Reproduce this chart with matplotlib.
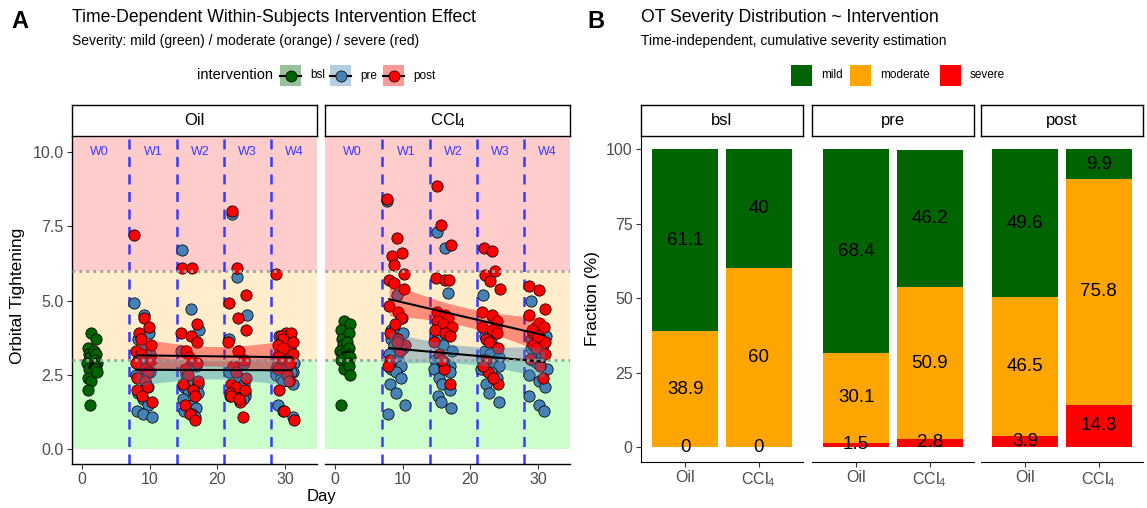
import matplotlib

matplotlib.use("Agg")
import matplotlib.pyplot as plt
import numpy as np
from matplotlib.patches import Rectangle
from matplotlib.lines import Line2D

plt.rcParams["font.family"] = ["Liberation Sans", "DejaVu Sans"]
plt.rcParams["mathtext.fontset"] = "custom"
plt.rcParams["mathtext.rm"] = "Liberation Sans"
plt.rcParams["mathtext.it"] = "Liberation Sans"

W, H = 1147, 508

# ---- panel A data: orbital tightening per day ----
week_labels = ["W0", "W1", "W2", "W3", "W4"]
week_label_day = [2.5, 10.5, 17.5, 24.5, 31.4]
week_breaks = [7, 14, 21, 28]
week_start = {1: 8, 2: 15, 3: 22, 4: 29}

oil_bsl_day = [1, 1, 1, 1, 1, 1, 1, 1, 1, 1, 2, 2, 2, 2, 2, 2, 2, 2]
oil_bsl_ot = [3.9, 3.4, 3.2, 3.1, 2.9, 2.7, 2.4, 2.3, 2.0, 1.5,
              3.7, 3.3, 3.2, 3.0, 2.9, 2.8, 2.7, 2.6]
ccl4_bsl_day = [1, 1, 1, 1, 1, 1, 1, 1, 1, 2, 2, 2, 2, 2, 2, 2, 2, 2]
ccl4_bsl_ot = [4.3, 4.0, 3.7, 3.5, 3.3, 3.2, 3.0, 2.7, 1.5,
               4.2, 3.9, 3.6, 3.4, 3.2, 3.1, 2.9, 2.8, 2.5]

oil_pre = {
    1: [4.9, 4.5, 3.9, 3.7, 3.5, 3.2, 3.0, 2.8, 2.6, 2.5, 2.3, 2.1, 1.9, 1.7, 1.5, 1.3, 1.2, 1.1],
    2: [6.7, 4.7, 4.0, 3.3, 3.0, 2.8, 2.5, 2.3, 2.2, 2.1, 2.0, 1.9, 1.7, 1.5, 1.4, 1.3, 1.2, 1.1],
    3: [7.9, 5.8, 4.5, 3.7, 3.3, 2.9, 2.6, 2.4, 2.2, 2.1, 2.0, 1.9, 1.9, 1.8, 1.8, 1.8, 1.7, 1.7],
    4: [3.8, 3.6, 3.4, 3.2, 3.0, 2.9, 2.8, 2.7, 2.6, 2.5, 2.7, 2.6, 2.4, 2.3, 2.2, 1.5, 1.3, 1.1],
}
oil_post = {
    1: [7.2, 4.4, 4.1, 3.9, 3.7, 3.5, 3.3, 3.2, 3.0, 2.9, 2.7, 2.6, 2.4, 2.3, 2.1, 2.0, 1.8, 1.6],
    2: [6.1, 6.1, 4.2, 3.9, 3.8, 3.6, 3.3, 3.1, 2.9, 2.7, 2.5, 2.3, 2.2, 2.0, 1.8, 1.5, 1.2, 1.0],
    3: [8.0, 6.1, 5.2, 4.9, 4.4, 4.0, 3.6, 3.3, 3.0, 2.8, 2.6, 2.4, 2.2, 2.1, 2.0, 1.9, 1.6, 1.1,
        1.8, 1.7],
    4: [5.9, 3.9, 3.9, 3.8, 3.7, 3.6, 3.5, 3.4, 3.2, 3.1, 3.0, 2.9, 2.7, 2.5, 2.3, 2.0, 1.3, 1.0],
}
ccl4_pre = {
    1: [8.35, 5.2, 4.4, 4.0, 3.9, 3.9, 3.7, 3.5, 3.4, 3.2, 3.0, 2.8, 2.7, 2.6, 2.4, 2.2, 1.9, 1.5,
        1.2],
    2: [7.3, 6.75, 5.25, 3.7, 3.5, 3.3, 3.0, 2.9, 2.8, 2.7, 2.8, 2.6, 2.4, 2.2, 2.0, 1.8, 1.6, 1.4],
    3: [5.2, 4.4, 4.1, 3.8, 3.6, 3.4, 3.3, 3.2, 3.1, 3.0, 2.9, 2.8, 2.7, 2.6, 2.4, 2.2, 1.9, 1.6],
    4: [5.0, 4.1, 3.8, 3.7, 3.6, 3.5, 3.4, 3.3, 3.2, 3.0, 2.9, 2.7, 2.5, 2.3, 2.1, 1.8, 1.5, 1.3],
}
ccl4_post = {
    1: [8.4, 7.1, 6.6, 6.5, 6.2, 5.9, 5.7, 5.6, 5.4, 4.8, 4.6, 4.4, 3.9, 3.7, 3.3, 3.0, 4.2, 3.5,
        2.8, 3.6],
    2: [8.85, 7.55, 6.85, 5.75, 5.7, 5.7, 4.6, 4.5, 4.4, 4.3, 4.2, 4.1, 4.0, 3.9, 3.8, 3.6, 2.7,
        2.2, 3.2, 3.0],
    3: [6.75, 6.65, 6.0, 5.85, 5.65, 5.4, 4.6, 4.5, 4.3, 4.1, 4.0, 3.9, 3.7, 3.6, 3.4, 3.0, 2.6,
        2.2, 2.8, 2.4],
    4: [5.5, 5.35, 4.7, 4.5, 4.25, 4.1, 3.9, 3.8, 3.6, 3.5, 3.4, 3.2, 3.05, 2.8, 2.4, 4.0, 3.8],
}

# ---- panel B data: severity fractions (%) ----
phases = ["bsl", "pre", "post"]
treatments = ["Oil", "CCl$_4$"]
mild_pct = {"bsl": [61.1, 40], "pre": [68.4, 46.2], "post": [49.6, 9.9]}
moderate_pct = {"bsl": [38.9, 60], "pre": [30.1, 50.9], "post": [46.5, 75.8]}
severe_pct = {"bsl": [0, 0], "pre": [1.5, 2.8], "post": [3.9, 14.3]}

COL = {"bsl": "#006400", "pre": "#4682B4", "post": "#FF0000"}
SEV_COL = {"mild": "#006400", "moderate": "#FFA500", "severe": "#FF0000"}
JITTER = [-0.3, 0.15, -0.05, 0.3, -0.2, 0.05, 0.25, -0.35, 0.1, -0.1, 0.35, -0.25, 0.2, 0.0]
TICK_GREY = "#4D4D4D"
TICK_SIZE = 11.5


def px_axes(fig, x0, y0, x1, y1):
    return fig.add_axes([x0 / W, 1 - y1 / H, (x1 - x0) / W, (y1 - y0) / H])


def add_strip(fig, x0, x1, label):
    ax = px_axes(fig, x0, 105, x1, 136)
    ax.set_xticks([])
    ax.set_yticks([])
    for s in ax.spines.values():
        s.set_color("black")
        s.set_linewidth(1.0)
    ax.text(0.5, 0.5, label, ha="center", va="center", fontsize=12,
            transform=ax.transAxes)


def week_points(weeks, shift):
    days, vals = [], []
    for wk, values in weeks.items():
        for i, v in enumerate(values):
            days.append(week_start[wk] + i % 3)
            vals.append(v)
    days = np.array(days, dtype=float)
    jit = np.array([JITTER[(k + shift) % len(JITTER)] for k in range(len(days))])
    return days, days + jit, np.array(vals)


def t_quantile(df):
    z = 1.959964
    return z + (z ** 3 + z) / (4 * df) + (5 * z ** 5 + 16 * z ** 3 + 3 * z) / (96 * df ** 2)


def lm_band(ax, days, vals, color):
    n = len(days)
    slope, intercept = np.polyfit(days, vals, 1)
    resid = vals - (intercept + slope * days)
    s = np.sqrt(np.sum(resid ** 2) / (n - 2))
    xbar = days.mean()
    sxx = np.sum((days - xbar) ** 2)
    xs = np.linspace(days.min(), days.max(), 80)
    fit = intercept + slope * xs
    se = s * np.sqrt(1 / n + (xs - xbar) ** 2 / sxx)
    t = t_quantile(n - 2)
    ax.fill_between(xs, fit - t * se, fit + t * se, color=color, alpha=0.4, lw=0, zorder=4)
    ax.plot(xs, fit, color="black", lw=1.5, zorder=5)


def draw_time_panel(ax, bsl_day, bsl_ot, pre, post, first):
    ax.set_xlim(-1.5, 34.75)
    ax.set_ylim(-0.49, 10.49)
    ax.axhspan(0, 3, color="#CCFFCC", lw=0, zorder=0)
    ax.axhspan(3, 6, color="#FFEDCC", lw=0, zorder=0)
    ax.axhspan(6, 10.49, color="#FFCCCC", lw=0, zorder=0)
    for d in week_breaks:
        ax.axvline(d, color="#3A3AFF", lw=1.8, ls=(0, (4, 3)), zorder=1)

    bday = np.array(bsl_day, dtype=float)
    bx = bday + np.array([JITTER[(k + 3) % len(JITTER)] * 0.8 for k in range(len(bday))])
    ax.scatter(bx, bsl_ot, s=66, color=COL["bsl"], edgecolors="black", linewidths=0.55, zorder=3)
    pre_day, pre_x, pre_v = week_points(pre, 0)
    post_day, post_x, post_v = week_points(post, 7)
    ax.scatter(pre_x, pre_v, s=66, color=COL["pre"], edgecolors="black", linewidths=0.55,
               zorder=3)
    ax.scatter(post_x, post_v, s=66, color=COL["post"], edgecolors="black", linewidths=0.55,
               zorder=3)

    lm_band(ax, bday, np.array(bsl_ot), COL["bsl"])
    lm_band(ax, pre_day, pre_v, COL["pre"])
    lm_band(ax, post_day, post_v, COL["post"])

    for yv in (3, 6):
        ax.axhline(yv, color="#A0A0A0", lw=2, ls=(0, (1, 1.5)), zorder=6)
    for lab, xd in zip(week_labels, week_label_day):
        ax.text(xd, 10, lab, color="#3A3AFF", fontsize=9, ha="center", va="center", zorder=7)

    ax.spines["top"].set_visible(False)
    ax.spines["right"].set_visible(False)
    ax.spines["bottom"].set_linewidth(1.0)
    ax.set_xticks([0, 10, 20, 30])
    ax.tick_params(axis="both", labelsize=TICK_SIZE, labelcolor=TICK_GREY, length=3.5,
                   width=0.8, color="#333333", pad=2.5)
    if first:
        ax.set_yticks([0, 2.5, 5, 7.5, 10])
        ax.set_yticklabels(["0.0", "2.5", "5.0", "7.5", "10.0"])
        ax.spines["left"].set_linewidth(1.0)
    else:
        ax.set_yticks([])
        ax.spines["left"].set_visible(False)


def draw_bar_panel(ax, phase, first):
    x = np.arange(1, len(treatments) + 1)
    sev = np.array(severe_pct[phase], dtype=float)
    mod = np.array(moderate_pct[phase], dtype=float)
    mild = np.array(mild_pct[phase], dtype=float)
    ax.bar(x, sev, width=0.9, color=SEV_COL["severe"], zorder=2)
    ax.bar(x, mod, width=0.9, bottom=sev, color=SEV_COL["moderate"], zorder=2)
    ax.bar(x, mild, width=0.9, bottom=sev + mod, color=SEV_COL["mild"], zorder=2)
    for xi, s, m, g in zip(x, sev, mod, mild):
        for val, base in ((s, 0), (m, s), (g, s + m)):
            ax.text(xi, base + val / 2, f"{val:g}", ha="center", va="center", fontsize=13.5,
                    color="black", zorder=3)
    ax.set_xlim(0.4, 2.6)
    ax.set_ylim(-5, 104.5)
    ax.set_xticks(x)
    ax.set_xticklabels(treatments)
    ax.spines["top"].set_visible(False)
    ax.spines["right"].set_visible(False)
    ax.tick_params(axis="both", labelsize=TICK_SIZE, labelcolor=TICK_GREY, length=3.5,
                   width=0.8, color="#333333", pad=2.5)
    if first:
        ax.set_yticks([0, 25, 50, 75, 100])
    else:
        ax.set_yticks([])
        ax.spines["left"].set_visible(False)


fig = plt.figure(figsize=(W / 100, H / 100), dpi=100, facecolor="white")

# panel A
ax_oil = px_axes(fig, 72, 137, 317, 464)
ax_ccl = px_axes(fig, 325, 137, 570, 464)
draw_time_panel(ax_oil, oil_bsl_day, oil_bsl_ot, oil_pre, oil_post, True)
draw_time_panel(ax_ccl, ccl4_bsl_day, ccl4_bsl_ot, ccl4_pre, ccl4_post, False)
add_strip(fig, 72, 317, "Oil")
add_strip(fig, 325, 570, "CCl$_4$")

# panel B
bar_boxes = [(641, 803), (812, 974), (981, 1143)]
for i, (phase, (x0, x1)) in enumerate(zip(phases, bar_boxes)):
    axb = px_axes(fig, x0, 136, x1, 462)
    draw_bar_panel(axb, phase, i == 0)
    add_strip(fig, x0, x1, phase)

# overlay for titles and legends in pixel coordinates
ov = fig.add_axes([0, 0, 1, 1], zorder=-1)
ov.set_xlim(0, W)
ov.set_ylim(H, 0)
ov.axis("off")

ov.text(11, 21, "A", fontsize=17, fontweight="bold", va="center")
ov.text(587, 21, "B", fontsize=17, fontweight="bold", va="center")
ov.text(72, 17, "Time-Dependent Within-Subjects Intervention Effect", fontsize=12.7,
        va="center")
ov.text(72, 41, "Severity: mild (green) / moderate (orange) / severe (red)", fontsize=10,
        va="center")
ov.text(641, 17, "OT Severity Distribution ~ Intervention", fontsize=12.7, va="center")
ov.text(641, 41, "Time-independent, cumulative severity estimation", fontsize=10, va="center")

ov.text(321, 496, "Day", fontsize=12, ha="center", va="center")
ov.text(18, 296, "Orbital Tightening", fontsize=12.5, ha="center", va="center", rotation=90)
ov.text(593, 299, "Fraction (%)", fontsize=12.5, ha="center", va="center", rotation=90)

# legend A
ov.text(197, 75, "intervention", fontsize=10.5, va="center")
for name, kx in (("bsl", 280), ("pre", 330), ("post", 383)):
    ov.add_patch(Rectangle((kx, 65), 21, 21, facecolor=COL[name], alpha=0.4, lw=0))
    ov.add_line(Line2D([kx, kx + 21], [75.5, 75.5], color="black", lw=1.5))
    ov.plot([kx + 10.5], [75.5], "o", ms=8, color=COL[name], mec="black", mew=0.5)
    ov.text(kx + 30, 75.5, name, fontsize=8.5, va="center")

# legend B
for name, kx in (("mild", 791), ("moderate", 850), ("severe", 940)):
    ov.add_patch(Rectangle((kx, 65), 21, 21, facecolor=SEV_COL[name], lw=0))
    ov.text(kx + 30, 75.5, name, fontsize=8.5, va="center")

fig.savefig("out.png", dpi=100, facecolor="white")
